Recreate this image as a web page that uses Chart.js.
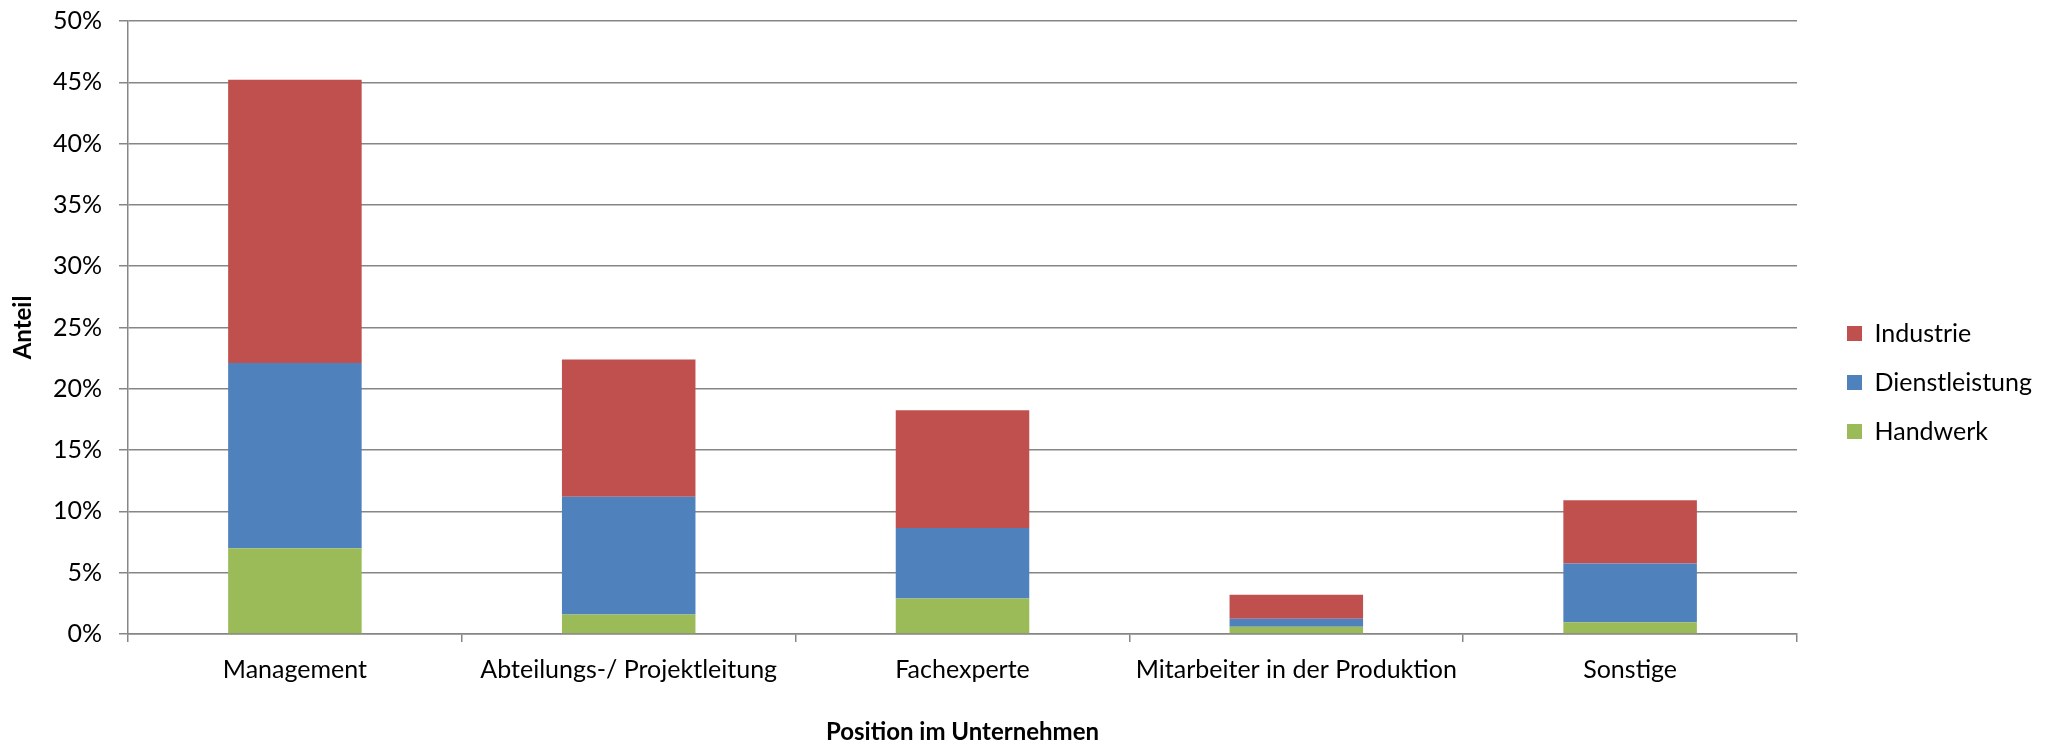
<!DOCTYPE html>
<html>
<head>
<meta charset="utf-8">
<script src="https://cdn.jsdelivr.net/npm/chart.js@4.4.1/dist/chart.umd.min.js"></script>
<style>
  html, body { margin: 0; padding: 0; background: #fff; }
  #wrap { width: 2047px; height: 744px; position: relative; }
</style>
</head>
<body>
<div id="wrap"><canvas id="chart"></canvas></div>
<script>
// Data (percent)
const positions = ['Management', 'Abteilungs-/ Projektleitung', 'Fachexperte', 'Mitarbeiter in der Produktion', 'Sonstige'];
const handwerk = [7.0, 1.6, 2.9, 0.6, 0.95];
const dienstleistung = [15.1, 9.6, 5.75, 0.65, 4.8];
const industrie = [23.1, 11.2, 9.6, 1.95, 5.15];
const yTicks = [0, 5, 10, 15, 20, 25, 30, 35, 40, 45, 50];

const axisGray = '#868686';

Chart.defaults.font.family = 'Lato, "Open Sans", sans-serif';
Chart.defaults.font.size = 25;
Chart.defaults.color = '#000';

document.addEventListener('DOMContentLoaded', function () {
    const ctx = document.getElementById('chart').getContext('2d');
    new Chart(ctx, {
        type: 'bar',
        data: {
            labels: positions,
            datasets: [
                { label: 'Handwerk', data: handwerk, backgroundColor: '#9BBB59' },
                { label: 'Dienstleistung', data: dienstleistung, backgroundColor: '#4F81BD' },
                { label: 'Industrie', data: industrie, backgroundColor: '#C0504D' }
            ]
        },
        options: {
            responsive: true,
            maintainAspectRatio: false,
            devicePixelRatio: 1,
            animation: false,
            layout: { padding: { top: 21, right: 5, bottom: 0, left: 0 } },
            datasets: {
                bar: { categoryPercentage: 1, barPercentage: 0.4, borderWidth: 0 }
            },
            scales: {
                x: {
                    stacked: true,
                    grid: {
                        display: true,
                        offset: true,
                        drawOnChartArea: false,
                        drawTicks: true,
                        tickLength: 8,
                        color: axisGray,
                        lineWidth: 1.5
                    },
                    border: { color: axisGray, width: 1.5 },
                    ticks: { padding: 13, maxRotation: 0, autoSkip: false },
                    title: {
                        display: true,
                        text: 'Position im Unternehmen',
                        font: { weight: 'bold', size: 24, lineHeight: 1 },
                        padding: { top: 0, bottom: 0 }
                    },
                    afterFit: function (scale) {
                        scale.height = 110;
                        scale.paddingLeft = 0;
                        scale.paddingRight = 0;
                    }
                },
                y: {
                    stacked: true,
                    min: 0,
                    max: 50,
                    afterBuildTicks: function (scale) {
                        scale.ticks = yTicks.map(v => ({ value: v }));
                    },
                    ticks: {
                        padding: 17,
                        callback: v => v + '%'
                    },
                    grid: {
                        color: axisGray,
                        lineWidth: 1.5,
                        tickLength: 9
                    },
                    border: { color: axisGray, width: 1.5 },
                    title: {
                        display: true,
                        text: 'Anteil',
                        font: { weight: 'bold', size: 24 },
                        padding: { top: 9, bottom: 0 }
                    },
                    afterFit: function (scale) {
                        scale.width = 128;
                        scale.paddingTop = 0;
                        scale.paddingBottom = 0;
                    }
                },
                // empty spacer between plot and legend
                gap: {
                    type: 'linear',
                    position: 'right',
                    display: true,
                    grid: { display: false },
                    border: { display: false },
                    ticks: { display: false },
                    afterFit: function (scale) {
                        scale.width = 26;
                        scale.paddingTop = 0;
                        scale.paddingBottom = 0;
                    }
                }
            },
            plugins: {
                legend: {
                    position: 'right',
                    reverse: true,
                    labels: {
                        boxWidth: 15,
                        boxHeight: 15,
                        padding: 24,
                        color: '#000',
                        font: { size: 25 }
                    }
                },
                tooltip: { enabled: false }
            }
        }
    });
});
</script>
</body>
</html>
